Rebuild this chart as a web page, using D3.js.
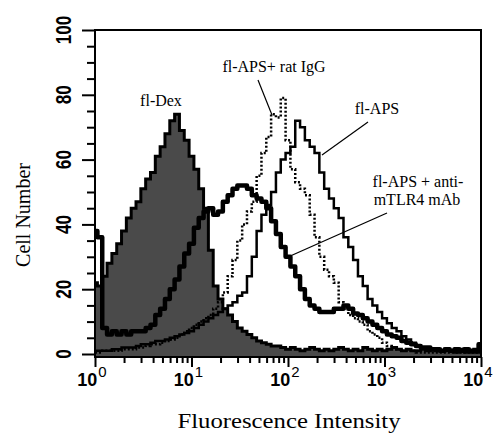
<!DOCTYPE html>
<html>
<head>
<meta charset="utf-8">
<script src="https://cdn.jsdelivr.net/npm/d3@7"></script>
<style>
  body { margin: 0; background: #fff; }
  svg { display: block; }
  text { fill: #000; }
</style>
</head>
<body>
<div id="chart"></div>
<script>
// histogram channels: one value per 0.05 decade, from 10^0 to 10^4
var binStep = 0.05;

// fl-Dex (filled)
var flDex = [22, 21, 24, 28, 31, 34, 38, 42, 45, 47,
             51, 54, 56, 61, 64, 68, 72, 74, 69, 66,
             61, 57, 51, 45, 32, 21, 17, 14, 12, 10,
             8, 7, 6, 5, 4, 3.5, 3, 2.5, 2.5, 2,
             1.5, 2, 1.5, 1, 1.5, 2, 1.5, 1, 1.5, 1,
             1.5, 2, 1.5, 1, 1.5, 1, 2, 1.5, 1, 1.5,
             1, 1.5, 2, 1.5, 1, 1.5, 1, 1, 1.5, 1,
             1.5, 1, 1, 1.5, 1, 1, 1.5, 1, 1, 1.5, 1];

// fl-APS + anti-mTLR4 mAb (thick line)
var flApsAntiTlr4 = [38, 36, 8, 6, 7, 6, 7, 6, 7, 7,
                     7, 8, 9, 12, 14, 17, 20, 23, 27, 31,
                     34, 39, 42, 44, 45, 43, 44, 47, 49, 51,
                     52, 52, 51, 49, 48, 47, 45, 41, 37, 33,
                     30, 27, 24, 20, 17, 15, 14, 13, 13, 13,
                     14, 14, 15, 14, 12.5, 12, 11, 10, 9, 8,
                     7, 6, 5.5, 5, 4, 3.5, 3, 2.5, 2, 2,
                     1.5, 1.5, 1, 1.5, 1, 1.5, 1, 1.5, 1, 1, 3];

// fl-APS (solid line)
var flAps = [1, 1, 1, 1, 1.5, 1.5, 2, 2, 2, 2.5,
             3, 3, 3.5, 4, 4, 4.5, 5, 5.5, 6, 6.5,
             7, 8, 9, 10, 11, 12, 13, 14, 15, 16,
             18, 19, 24, 30, 38, 43, 46, 50, 56, 60,
             62, 64, 72, 70, 66, 64, 62, 56, 51, 48,
             45, 42, 36, 33, 29, 24, 21, 17, 15, 13,
             11, 9.5, 8, 7, 5.5, 4.5, 3.5, 2.5, 2, 1.5,
             1.5, 1, 1, 1, 1, 0.5, 1, 0.5, 0.5, 0.5, 0.5];

// fl-APS + rat IgG (dotted line)
var flApsRatIgG = [0.5, 0.5, 1, 1, 1, 1, 1.5, 1.5, 1.5, 2,
                   2, 2.5, 3, 3, 3.5, 4, 4.5, 5, 6, 7,
                   8, 9, 10, 11, 12, 14, 16, 19, 24, 29,
                   35, 40, 44, 47, 55, 62, 67, 74, 73, 79,
                   66, 57, 53, 51, 49, 43, 36, 30, 26, 24,
                   22, 16, 14, 12, 11, 10, 9, 7, 6, 5,
                   3.5, 2.5, 2, 1.5, 1, 1, 1, 0.5, 0.5, 0.5,
                   0.5, 0.5, 0.5, 0.5, 0.5, 0.5, 0.5, 0.5, 0.5, 0.5, 0.5];

var yTicks = [0, 20, 40, 60, 80, 100];
var yMinorTicks = [5, 10, 15, 25, 30, 35, 45, 50, 55, 65, 70, 75, 85, 90, 95];
var decades = [0, 1, 2, 3, 4];

var width = 502, height = 433;
var plotLeft = 95, plotRight = 481, plotTop = 30, plotBottom = 357;

var x = d3.scaleLog().domain([1, 1e4]).range([plotLeft, plotRight]);
var y = d3.scaleLinear().domain([0, 100]).range([354, plotTop]);

function toPoints(values) {
    return values.map(function(v, i) {
        return {x: Math.pow(10, i * binStep), y: v};
    });
}

var svg = d3.select("#chart").append("svg")
        .attr("width", width)
        .attr("height", height);

svg.append("rect").attr("width", width).attr("height", height).attr("fill", "#fff");

svg.append("clipPath").attr("id", "plotClip")
        .append("rect")
        .attr("x", plotLeft).attr("y", plotTop)
        .attr("width", plotRight - plotLeft).attr("height", plotBottom - plotTop);

var plot = svg.append("g").attr("clip-path", "url(#plotClip)");

var line = d3.line()
        .x(function(d) { return x(d.x); })
        .y(function(d) { return y(d.y); })
        .curve(d3.curveStep);

var area = d3.area()
        .x(function(d) { return x(d.x); })
        .y0(plotBottom)
        .y1(function(d) { return y(d.y); })
        .curve(d3.curveStep);

// fl-Dex filled histogram
plot.append("path")
        .datum(toPoints(flDex))
        .attr("d", area)
        .attr("fill", "#4a4a4a");
plot.append("path")
        .datum(toPoints(flDex))
        .attr("d", line)
        .attr("fill", "none")
        .attr("stroke", "#000")
        .attr("stroke-width", 3);

// rat IgG, dotted
plot.append("path")
        .datum(toPoints(flApsRatIgG))
        .attr("d", line)
        .attr("fill", "none")
        .attr("stroke", "#000")
        .attr("stroke-width", 2.5)
        .attr("stroke-dasharray", "2,2");

// fl-APS
plot.append("path")
        .datum(toPoints(flAps))
        .attr("d", line)
        .attr("fill", "none")
        .attr("stroke", "#000")
        .attr("stroke-width", 2.5);

// anti-mTLR4, thick
plot.append("path")
        .datum(toPoints(flApsAntiTlr4))
        .attr("d", line)
        .attr("fill", "none")
        .attr("stroke", "#000")
        .attr("stroke-width", 4.5)
        .attr("stroke-linejoin", "round");

// frame
svg.append("rect")
        .attr("x", plotLeft).attr("y", plotTop)
        .attr("width", plotRight - plotLeft).attr("height", plotBottom - plotTop)
        .attr("fill", "none")
        .attr("stroke", "#000")
        .attr("stroke-width", 2);

// y axis ticks
var yAxisG = svg.append("g").attr("transform", "translate(" + plotLeft + ",0)");
yAxisG.call(d3.axisLeft(y).tickValues(yTicks).tickSize(13).tickFormat(""));
var yMinorG = svg.append("g").attr("transform", "translate(" + plotLeft + ",0)");
yMinorG.call(d3.axisLeft(y).tickValues(yMinorTicks).tickSize(8).tickFormat(""));

svg.append("g").selectAll("text")
        .data(yTicks)
        .join("text")
        .attr("transform", function(d) {
            return "translate(71," + y(d) + ") rotate(-90) scale(0.78,1)";
        })
        .attr("text-anchor", "middle")
        .attr("font-family", "Liberation Sans, Arial, sans-serif")
        .attr("font-weight", "bold")
        .attr("font-size", 22)
        .text(function(d) { return d; });

// x axis ticks
var xMinor = [];
decades.slice(0, 4).forEach(function(e) {
    [2, 3, 4, 5, 6, 7, 8, 9].forEach(function(m) { xMinor.push(m * Math.pow(10, e)); });
});
var xMajor = decades.map(function(e) { return Math.pow(10, e); });

var xAxisG = svg.append("g").attr("transform", "translate(0," + plotBottom + ")");
xAxisG.call(d3.axisBottom(x).tickValues(xMajor).tickSize(10).tickFormat(""));
var xMinorG = svg.append("g").attr("transform", "translate(0," + plotBottom + ")");
xMinorG.call(d3.axisBottom(x).tickValues(xMinor).tickSize(6).tickFormat(""));

svg.selectAll(".domain").remove();
svg.selectAll(".tick line").attr("stroke", "#000").attr("stroke-width", 2);

var xLabels = svg.append("g").selectAll("text")
        .data(decades)
        .join("text")
        .attr("x", function(d) { return x(Math.pow(10, d)) - 3; })
        .attr("y", 386)
        .attr("text-anchor", "middle")
        .attr("font-family", "Liberation Sans, Arial, sans-serif")
        .attr("font-weight", "bold")
        .attr("font-size", 18);
xLabels.append("tspan").text("10");
xLabels.append("tspan")
        .attr("dy", -9)
        .attr("dx", 1)
        .attr("font-size", 15)
        .attr("font-weight", "normal")
        .text(function(d) { return d; });

// axis titles
svg.append("text")
        .attr("transform", "translate(30,215) rotate(-90)")
        .attr("text-anchor", "middle")
        .attr("font-family", "Liberation Serif, Times New Roman, serif")
        .attr("font-size", 20)
        .text("Cell Number");

svg.append("text")
        .attr("x", 289)
        .attr("y", 428)
        .attr("text-anchor", "middle")
        .attr("font-family", "Liberation Serif, Times New Roman, serif")
        .attr("font-size", 22)
        .attr("textLength", 223)
        .attr("lengthAdjust", "spacingAndGlyphs")
        .text("Fluorescence Intensity");

// annotations
var labelFont = "Liberation Serif, Times New Roman, serif";
var annotations = [
    {text: "fl-Dex", x: 161, y: 106},
    {text: "fl-APS+ rat IgG", x: 274, y: 72},
    {text: "fl-APS", x: 377, y: 114},
    {text: "fl-APS + anti-", x: 418, y: 187},
    {text: "mTLR4 mAb", x: 417, y: 205}
];
svg.append("g").selectAll("text")
        .data(annotations)
        .join("text")
        .attr("x", function(d) { return d.x; })
        .attr("y", function(d) { return d.y; })
        .attr("text-anchor", "middle")
        .attr("font-family", labelFont)
        .attr("font-size", 16)
        .text(function(d) { return d.text; });

var pointers = [
    [[258, 80], [272, 115]],
    [[368, 122], [322, 155]],
    [[387, 213], [288, 257]]
];
svg.append("g").selectAll("line")
        .data(pointers)
        .join("line")
        .attr("x1", function(d) { return d[0][0]; })
        .attr("y1", function(d) { return d[0][1]; })
        .attr("x2", function(d) { return d[1][0]; })
        .attr("y2", function(d) { return d[1][1]; })
        .attr("stroke", "#000")
        .attr("stroke-width", 1.2);
</script>
</body>
</html>
